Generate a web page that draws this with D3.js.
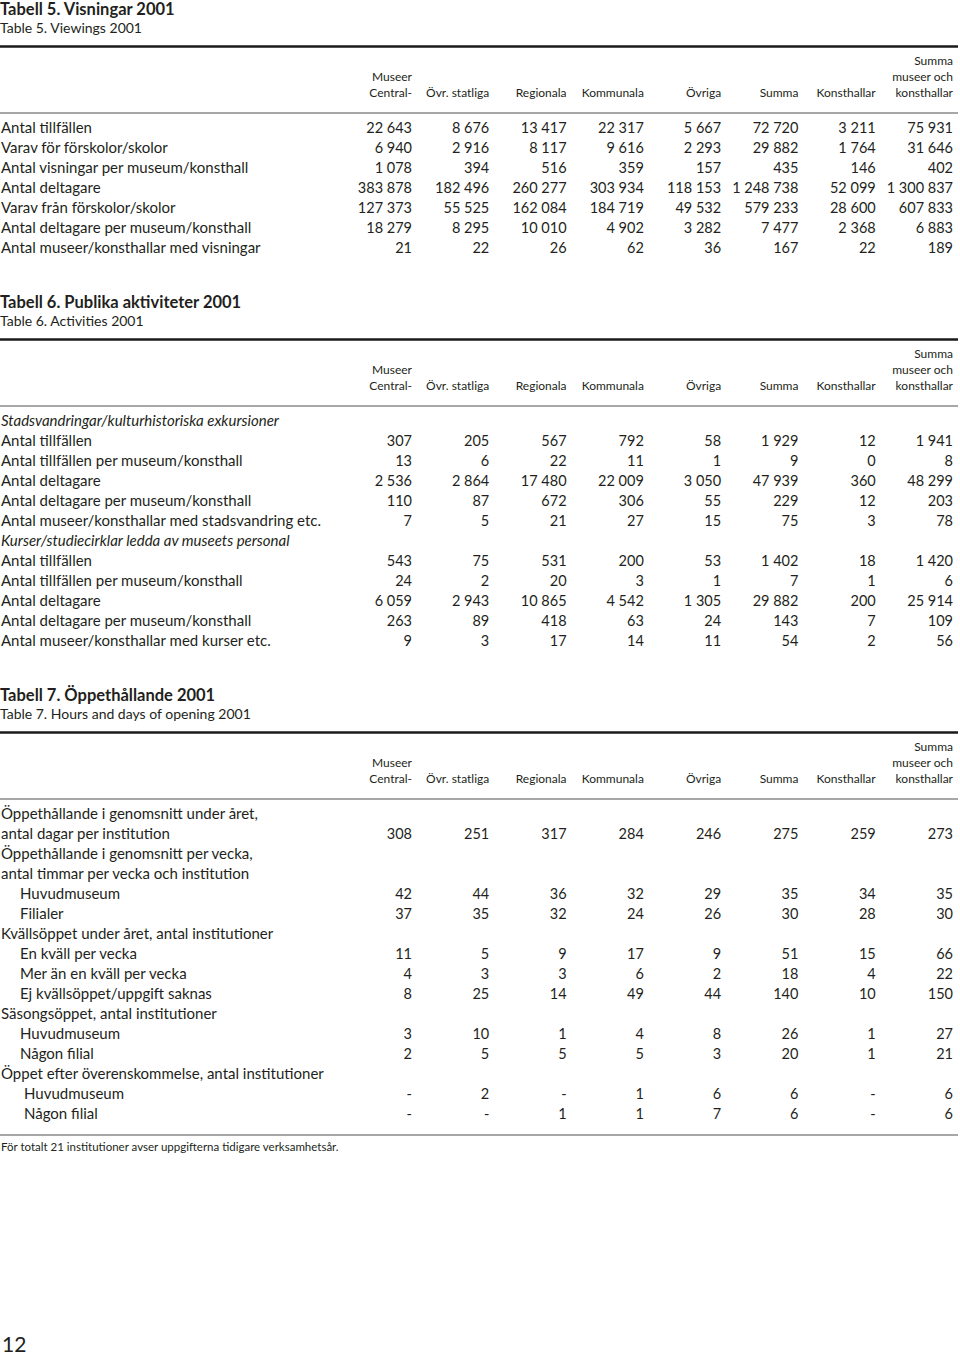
<!DOCTYPE html>
<html>
<head>
<meta charset="utf-8">
<script src="https://cdn.jsdelivr.net/npm/d3@7"></script>
<style>
  body { margin: 0; background: #fff; }
  svg { display: block; }
</style>
</head>
<body>
<div id="page"></div>
<script>
// column keys + header lines (bottom aligned)
const columnKeys = ["central", "ovrStatliga", "regionala", "kommunala", "ovriga", "summa", "konsthallar", "summaTot"];
const columnHeaders = [
  ["Museer", "Central-"],
  ["Övr. statliga"],
  ["Regionala"],
  ["Kommunala"],
  ["Övriga"],
  ["Summa"],
  ["Konsthallar"],
  ["Summa", "museer och", "konsthallar"]
];

// Tabell 5
const t5Title = "Tabell 5. Visningar 2001";
const t5Subtitle = "Table 5. Viewings 2001";
const t5Labels = [
  "Antal tillfällen",
  "Varav för förskolor/skolor",
  "Antal visningar per museum/konsthall",
  "Antal deltagare",
  "Varav från förskolor/skolor",
  "Antal deltagare per museum/konsthall",
  "Antal museer/konsthallar med visningar"
];
const t5Values = [
  [22643, 8676, 13417, 22317, 5667, 72720, 3211, 75931],
  [6940, 2916, 8117, 9616, 2293, 29882, 1764, 31646],
  [1078, 394, 516, 359, 157, 435, 146, 402],
  [383878, 182496, 260277, 303934, 118153, 1248738, 52099, 1300837],
  [127373, 55525, 162084, 184719, 49532, 579233, 28600, 607833],
  [18279, 8295, 10010, 4902, 3282, 7477, 2368, 6883],
  [21, 22, 26, 62, 36, 167, 22, 189]
];

// Tabell 6
const t6Title = "Tabell 6. Publika aktiviteter 2001";
const t6Subtitle = "Table 6. Activities 2001";
const t6Labels = [
  "Stadsvandringar/kulturhistoriska exkursioner",
  "Antal tillfällen",
  "Antal tillfällen per museum/konsthall",
  "Antal deltagare",
  "Antal deltagare per museum/konsthall",
  "Antal museer/konsthallar med stadsvandring etc.",
  "Kurser/studiecirklar ledda av museets personal",
  "Antal tillfällen",
  "Antal tillfällen per museum/konsthall",
  "Antal deltagare",
  "Antal deltagare per museum/konsthall",
  "Antal museer/konsthallar med kurser etc."
];
const t6Values = [
  null,
  [307, 205, 567, 792, 58, 1929, 12, 1941],
  [13, 6, 22, 11, 1, 9, 0, 8],
  [2536, 2864, 17480, 22009, 3050, 47939, 360, 48299],
  [110, 87, 672, 306, 55, 229, 12, 203],
  [7, 5, 21, 27, 15, 75, 3, 78],
  null,
  [543, 75, 531, 200, 53, 1402, 18, 1420],
  [24, 2, 20, 3, 1, 7, 1, 6],
  [6059, 2943, 10865, 4542, 1305, 29882, 200, 25914],
  [263, 89, 418, 63, 24, 143, 7, 109],
  [9, 3, 17, 14, 11, 54, 2, 56]
];

// Tabell 7  (null inside a row = "-")
const t7Title = "Tabell 7. Öppethållande 2001";
const t7Subtitle = "Table 7. Hours and days of opening 2001";
const t7Labels = [
  "Öppethållande i genomsnitt under året,",
  "antal dagar per institution",
  "Öppethållande i genomsnitt per vecka,",
  "antal timmar per vecka och institution",
  "Huvudmuseum",
  "Filialer",
  "Kvällsöppet under året, antal institutioner",
  "En kväll per vecka",
  "Mer än en kväll per vecka",
  "Ej kvällsöppet/uppgift saknas",
  "Säsongsöppet, antal institutioner",
  "Huvudmuseum",
  "Någon filial",
  "Öppet efter överenskommelse, antal institutioner",
  "Huvudmuseum",
  "Någon filial"
];
const t7Values = [
  null,
  [308, 251, 317, 284, 246, 275, 259, 273],
  null,
  null,
  [42, 44, 36, 32, 29, 35, 34, 35],
  [37, 35, 32, 24, 26, 30, 28, 30],
  null,
  [11, 5, 9, 17, 9, 51, 15, 66],
  [4, 3, 3, 6, 2, 18, 4, 22],
  [8, 25, 14, 49, 44, 140, 10, 150],
  null,
  [3, 10, 1, 4, 8, 26, 1, 27],
  [2, 5, 5, 5, 3, 20, 1, 21],
  null,
  [null, 2, null, 1, 6, 6, null, 6],
  [null, null, 1, 1, 7, 6, null, 6]
];
const t7Footnote = "För totalt 21 institutioner avser uppgifterna tidigare verksamhetsår.";
const pageNumber = "12";

const W = 960, H = 1355;
const font = "Lato, 'Open Sans', sans-serif";
const ink = "#231f20";

const svg = d3.select("#page").append("svg")
  .attr("width", W).attr("height", H)
  .style("font-family", font);

// right edge of every number column
const x = d3.scalePoint().domain(columnKeys).range([412, 953]);
const fmt = d3.formatLocale({decimal: ",", thousands: " ", grouping: [3], currency: ["", ""]}).format(",d");

const rowStep = 20;

function drawTable(top, title, subtitle, labels, values, opts) {
  const g = svg.append("g").attr("transform", `translate(0,${top})`);
  g.append("text").attr("x", 0).attr("y", 15)
    .attr("font-size", 16.5).attr("font-weight", "bold").attr("fill", ink)
    .text(title);
  g.append("text").attr("x", 0).attr("y", 33)
    .attr("font-size", 14).attr("fill", ink)
    .text(subtitle);
  g.append("line").attr("x1", 0).attr("x2", 958).attr("y1", 46.5).attr("y2", 46.5)
    .attr("stroke", "#1a1a1a").attr("stroke-width", 2.6);

  // headers, bottom aligned
  const hdr = g.append("g").attr("font-size", 12).attr("fill", ink).attr("text-anchor", "end");
  columnHeaders.forEach((lines, i) => {
    lines.forEach((t, j) => {
      hdr.append("text")
        .attr("x", x(columnKeys[i]))
        .attr("y", 97 - (lines.length - 1 - j) * 16)
        .text(t);
    });
  });
  g.append("line").attr("x1", 0).attr("x2", 958).attr("y1", 113).attr("y2", 113)
    .attr("stroke", "#8a8a8a").attr("stroke-width", 1.3);

  const y = d3.scalePoint().domain(d3.range(labels.length))
    .range([133, 133 + (labels.length - 1) * rowStep]);

  const rows = g.selectAll("g.row").data(labels.map((l, i) => ({label: l, vals: values[i], i})))
    .join("g").attr("class", "row")
    .attr("transform", d => `translate(0,${y(d.i)})`);

  rows.append("text")
    .attr("x", d => (opts.indent ? opts.indent[d.i] : 0) + 1)
    .attr("y", 0)
    .attr("font-size", 15)
    .attr("font-style", d => (opts.italic && !d.vals ? "italic" : null))
    .attr("fill", ink)
    .text(d => d.label);

  rows.filter(d => d.vals).selectAll("text.num")
    .data(d => d.vals.map((v, k) => ({v, k})))
    .join("text").attr("class", "num")
    .attr("x", d => x(columnKeys[d.k]))
    .attr("y", 0)
    .attr("text-anchor", "end")
    .attr("font-size", 14.5)
    .attr("fill", ink)
    .text(d => (d.v === null ? "-" : fmt(d.v)));

  return g;
}

drawTable(0, t5Title, t5Subtitle, t5Labels, t5Values, {});
drawTable(293, t6Title, t6Subtitle, t6Labels, t6Values, {italic: true});
const t7 = drawTable(686, t7Title, t7Subtitle, t7Labels, t7Values, {
  indent: [0, 0, 0, 0, 19, 19, 0, 19, 19, 19, 0, 19, 19, 0, 23, 23]
});

t7.append("line").attr("x1", 0).attr("x2", 958).attr("y1", 449).attr("y2", 449)
  .attr("stroke", "#8a8a8a").attr("stroke-width", 1.3);
t7.append("text").attr("x", 1).attr("y", 465)
  .attr("font-size", 11.5).attr("fill", ink)
  .text(t7Footnote);

svg.append("text").attr("x", 2).attr("y", 1352)
  .attr("font-size", 21).attr("fill", ink)
  .text(pageNumber);
</script>
</body>
</html>
